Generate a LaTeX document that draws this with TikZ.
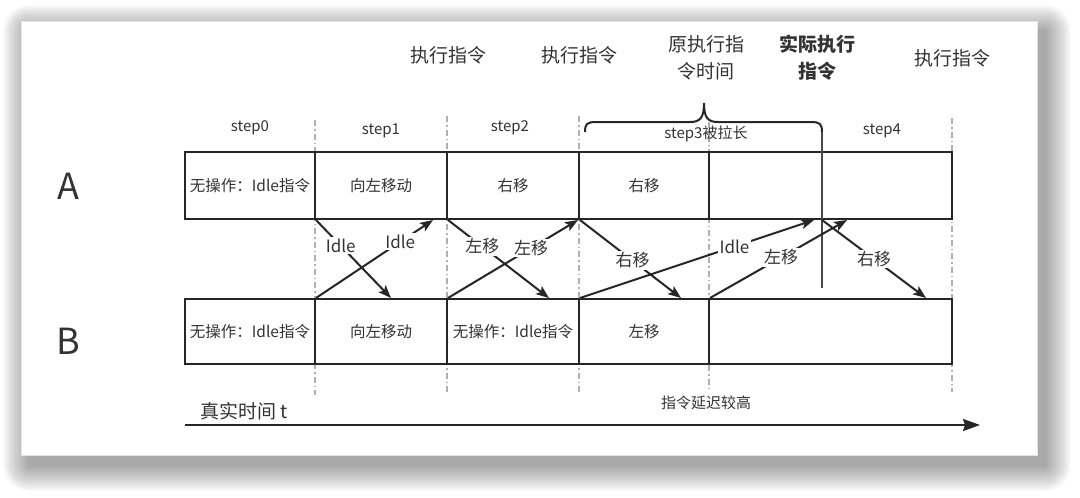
\documentclass[tikz,border=0pt]{standalone}
\usepackage{fontspec}
\setmainfont{Noto Sans CJK SC}
\usetikzlibrary{arrows.meta,calc}
\definecolor{ink}{HTML}{262626}
\definecolor{txt}{HTML}{333333}
\definecolor{sepc}{HTML}{B0B0B0}
\begin{document}
\begin{tikzpicture}[x=1pt,y=-1pt,
  cell/.style={draw=ink, line width=2pt, inner sep=0pt, text=txt, font=\fontsize{15.5}{17}\selectfont},
  rowA/.style={cell, minimum height=67pt},
  rowB/.style={cell, minimum height=65pt},
  steplbl/.style={text=txt, font=\fontsize{15}{17}\selectfont},
  toplbl/.style={text=txt, font=\fontsize{19}{27}\selectfont, align=center},
  biglbl/.style={text=txt, font=\fontsize{36}{40}\selectfont},
  arrlbl/.style={fill=white, inner sep=1.5pt, text=txt, font=\fontsize{17}{19}\selectfont},
  conn/.style={draw=ink, line width=2pt, -{Stealth[length=13pt,width=10pt,inset=3pt]}},
  sepline/.style={draw=sepc, line width=1.2pt, dash pattern=on 6pt off 3pt on 1.5pt off 3pt},
]
\useasboundingbox (0,0) rectangle (1080,498);
% shadow
\foreach \i in {1,...,26}{
  \fill[black, opacity=0.015, rounded corners=\i pt] ({29-\i},{31-\i}) rectangle ({1045+\i},{465+\i});
}
\fill[white] (21,21) rectangle (1037,455);
\draw[black!10, line width=0.5pt] (21,21) rectangle (1037,455);

% separators
\foreach \x/\a/\b in {315/120/395, 447/116/393, 579/116/392, 709/122/392, 952/118/392}{
  \draw[sepline] (\x,\a) -- (\x,\b);
}

% row A
\node[rowA, minimum width=130pt] (a0) at (250,185.5) {无操作：Idle指令};
\node[rowA, minimum width=132pt] (a1) at (381,185.5) {向左移动};
\node[rowA, minimum width=132pt] (a2) at (513,185.5) {右移};
\node[rowA, minimum width=130pt] (a3) at (644,185.5) {右移};
\node[rowA, minimum width=243pt] (a4) at (830.5,185.5) {};
% row B
\node[rowB, minimum width=130pt] (b0) at (250,331.5) {无操作：Idle指令};
\node[rowB, minimum width=132pt] (b1) at (381,331.5) {向左移动};
\node[rowB, minimum width=132pt] (b2) at (513,331.5) {无操作：Idle指令};
\node[rowB, minimum width=130pt] (b3) at (644,331.5) {左移};
\node[rowB, minimum width=243pt] (b4) at (830.5,331.5) {};

% row labels
\node[biglbl] (lA) at (68,186) {A};
\node[biglbl] (lB) at (68,341) {B};

% step labels
\node[steplbl] (s0) at (250,128) {step0};
\node[steplbl] (s1) at (381,131) {step1};
\node[steplbl] (s2) at (510,128) {step2};
\node[steplbl] (s3) at (706,134) {step3被拉长};
\node[steplbl] (s4) at (882,131) {step4};

% top labels
\node[toplbl] (t1) at (448,55) {执行指令};
\node[toplbl] (t2) at (579,55) {执行指令};
\node[toplbl] (t3) at (706,58) {原执行指\\令时间};
\node[toplbl, font=\fontsize{19}{27}\selectfont\bfseries] (t4) at (817,58) {实际执行\\指令};
\node[toplbl] (t5) at (952,58) {执行指令};

% brace and actual-execution line
\coordinate (brL) at (585,132);
\coordinate (brR) at (822,132);
\coordinate (actB) at (822,288);
\draw[ink, line width=2pt] (brL) .. controls (585,124) and (587,122) .. (596,122) -- (690,122)
  .. controls (700,122) and (704,118) .. (704,103)
  .. controls (704,118) and (708,122) .. (718,122) -- (811,122)
  .. controls (820,122) and (822,124) .. (brR);
\draw[ink!85, line width=1.5pt] (brR) -- (actB);

% connectors
\draw[conn] (a0.south east) -- node[arrlbl, pos=0.33] {Idle} ([xshift=10pt]b1.north);
\draw[conn] (b0.north east) -- node[arrlbl, pos=0.72] {Idle} ([xshift=-15pt]a1.south east);
\draw[conn] (a1.south east) -- node[arrlbl, pos=0.34] {左移} ([xshift=-31pt]b2.north east);
\draw[conn] (b1.north east) -- node[arrlbl, pos=0.64] {左移} ([xshift=-2pt]a2.south east);
\draw[conn] (a2.south east) -- node[arrlbl, pos=0.52] {右移} ([xshift=-29pt]b3.north east);
\draw[conn] (b2.north east) -- node[arrlbl, pos=0.66] {Idle} ([xshift=106pt]a4.south west);
\draw[conn] (b3.north east) -- node[arrlbl, pos=0.52] {左移} ([xshift=139pt]a4.south west);
\draw[conn] ([xshift=114pt]a4.south west) -- node[arrlbl, pos=0.5] {右移} ([xshift=-27pt]b4.north east);

% time axis
\coordinate (tS) at (185,425);
\coordinate (tE) at (980,425);
\draw[ink, line width=2pt, -{Stealth[length=17pt,width=12pt,inset=2pt]}] (tS) -- (tE);
\node[text=txt, font=\fontsize{19}{21}\selectfont] (tl) at (244,411) {真实时间 t};
\node[steplbl] (dl) at (706,403) {指令延迟较高};
\end{tikzpicture}
\end{document}
